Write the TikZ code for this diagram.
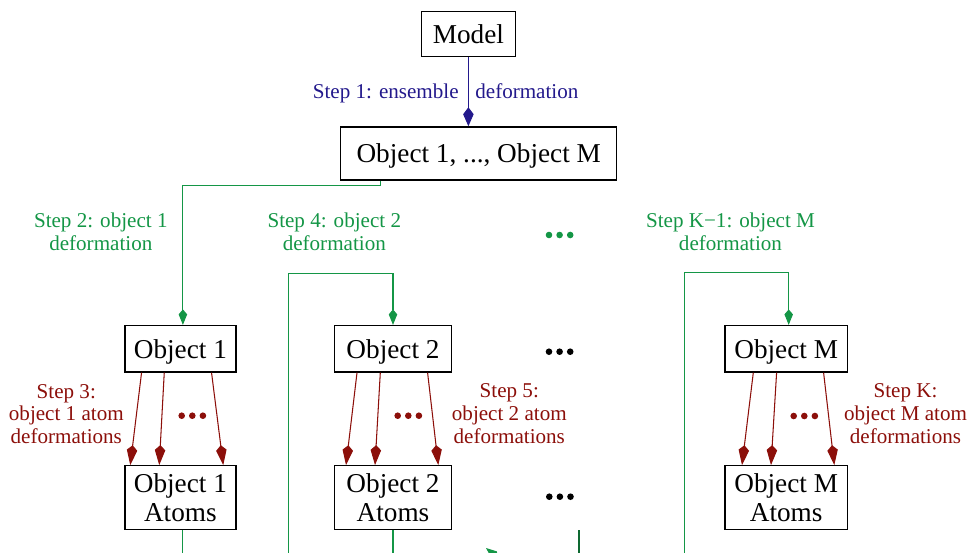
\documentclass[tikz,border=0pt]{standalone}
\usepackage{fontspec}
\setmainfont{Liberation Serif}
\usetikzlibrary{arrows.meta,calc}

\definecolor{mavi}{RGB}{35,25,140}
\definecolor{yesil}{RGB}{20,150,70}
\definecolor{kirmizi}{RGB}{140,15,10}

\begin{document}
\begin{tikzpicture}[x=0.02cm, y=-0.02cm,
  kutu/.style={draw, line width=0.75pt, inner sep=0pt, align=center,
    minimum height=0.93cm, font=\fontsize{15.5}{16.5}\selectfont},
  tek/.style={text depth=0pt},
  etiket/.style={inner sep=0pt, align=center, font=\fontsize{12}{13}\selectfont},
  mok/.style={mavi, line width=0.6pt, -{Kite[length=0.38cm, width=0.21cm, inset=0.14cm]}},
  yok/.style={yesil, line width=0.6pt, -{Kite[length=0.31cm, width=0.17cm, inset=0.1cm]}},
  kok/.style={kirmizi, line width=0.6pt, -{Kite[length=0.4cm, width=0.21cm, inset=0.1cm]}},
  yhat/.style={yesil, line width=0.6pt}]
  \useasboundingbox (0,0) rectangle (968,552);
  \clip (0,0) rectangle (968,552);

  % --- kutular ---
  \node[kutu, tek, minimum width=1.88cm, minimum height=0.9cm] (m) at (468.4,34.2) {Model};
  \node[kutu, tek, minimum width=5.52cm, minimum height=1.06cm] (hepsi) at (478.7,153.4)
    {Object 1, ..., Object M};
  \foreach \n/\x/\w in {1/180.4/2.22, 2/393/2.35, M/786.2/2.45} {
    \node[kutu, tek, minimum width=\w cm] (n\n) at (\x,348.8) {Object \n};
    \node[kutu, minimum width=\w cm, minimum height=1.27cm] (a\n) at (\x,497.5)
      {Object \n\\Atoms};
  }

  % adim 1: topluluk
  \draw[mok] (m.south) -- (m.south |- hepsi.north);
  \node[etiket, mavi, anchor=mid east] (s1a) at (459,94.5) {Step 1: ensemble};
  \node[etiket, mavi, anchor=mid west] (s1b) at (475,94.5) {deformation};

  % yesil yollar (nesne adimlari)
  \coordinate (alt2) at (288.3,560);
  \coordinate (k2) at (288.3,273.3);
  \coordinate (altM) at (684.3,560);
  \coordinate (kM) at (684.3,272.7);
  \draw[yok] ([xshift=0.806cm]hepsi.south west) -- ++(0,5) -| ([xshift=0.05cm]n1.north);
  \draw[yok] (alt2) -- (k2) -| (n2.north);
  \draw[yok] (altM) -- (kM) -| ([xshift=0.05cm]nM.north);
  \node[etiket, yesil] (s2) at (100.8,232) {Step 2: object 1\\deformation};
  \node[etiket, yesil] (s4) at (334.3,232) {Step 4: object 2\\deformation};
  \node[etiket, yesil] (sK1) at (730.5,232) {Step K−1: object M\\deformation};

  % kirmizi oklar (atom adimlari)
  \foreach \n/\a/\b in {1/17.3/6, 1/40/35, 1/87.3/99,
                        2/23.4/12.4, 2/46.7/41.4, 2/94/104.7,
                        M/29/17.7, M/52.3/46.7, M/99.3/110}
    \draw[kok] ([xshift=\a*0.02cm]n\n.south west) -- ([xshift=\b*0.02cm]a\n.north west);
  \node[etiket, kirmizi] (s3) at (66.3,414) {Step 3:\\object 1 atom\\deformations};
  \node[etiket, kirmizi] (s5) at (509.3,413.5) {Step 5:\\object 2 atom\\deformations};
  \node[etiket, kirmizi] (sK) at (905.5,413.3) {Step K:\\object M atom\\deformations};

  % uc noktalar
  \foreach \x/\y/\r in {549/235/yesil, 549/351.7/black, 549.3/496.7/black,
                        181.7/415.7/kirmizi, 397.7/415.7/kirmizi, 793.7/416/kirmizi}
    \foreach \i in {0,1,2}
      \fill[\r] (\x+\i*10.6,\y) circle (0.066cm);

  % alt kenara giden parcalar
  \coordinate (u1) at (579,530);
  \coordinate (u2) at (579,560);
  \coordinate (u3) at (525,580);
  \coordinate (u4) at (486,548);
  \draw[yhat] ([xshift=0.05cm]a1.south) -- ++(0,40);
  \draw[yhat] (a2.south) -- ++(0,40);
  \draw[yesil!70!black, line width=0.6pt] (u1) -- (u2);
  \draw[yok] (u3) -- (u4);
\end{tikzpicture}
\end{document}
